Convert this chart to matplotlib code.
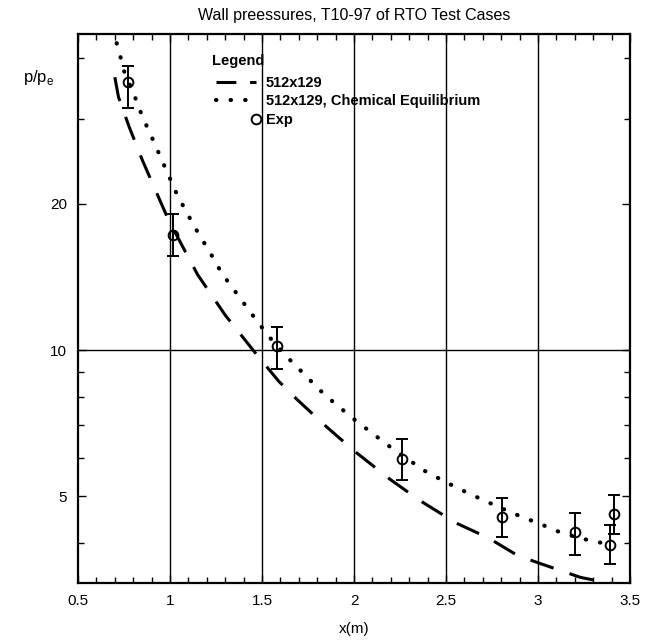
import numpy as np
import matplotlib.pyplot as plt
from matplotlib.lines import Line2D
from matplotlib.legend_handler import HandlerLine2D
from matplotlib.ticker import FixedLocator, NullFormatter, LogLocator

plt.rcParams["font.family"] = ["Liberation Sans", "DejaVu Sans"]

# ---- data ----
x_dash = [0.70, 0.72, 0.78, 0.85, 0.99, 1.07, 1.15, 1.30, 1.48, 1.59, 1.69,
          1.85, 2.00, 2.20, 2.36, 2.555, 2.73, 2.89, 3.04, 3.23, 3.40]
y_dash = [36.5, 33.2, 28.7, 24.6, 18.6, 16.3, 14.3, 11.8, 9.69, 8.63, 7.91,
          6.95, 6.20, 5.40, 4.89, 4.40, 4.10, 3.77, 3.60, 3.40, 3.30]

x_dot = [0.71, 0.728, 0.746, 0.814, 0.855, 0.882, 1.036, 1.094, 1.154, 1.217,
         1.281, 1.462, 1.543, 1.625, 1.716, 1.803, 1.848, 2.00, 2.20, 2.386,
         2.504, 2.62, 2.79, 2.90, 3.025, 3.134, 3.27, 3.38]
y_dot = [42.9, 40.6, 37.9, 32.9, 29.9, 28.5, 21.0, 19.1, 17.4, 15.9,
         14.4, 11.62, 10.6, 9.77, 9.02, 8.35, 8.04, 7.2, 6.3, 5.63,
         5.33, 5.07, 4.74, 4.55, 4.36, 4.19, 4.06, 3.98]

x_exp = [0.772, 1.017, 1.58, 2.26, 2.804, 3.20, 3.39, 3.415]
y_exp = [35.6, 17.3, 10.19, 5.95, 4.53, 4.21, 3.97, 4.59]
y_hi = [38.5, 19.1, 11.17, 6.55, 4.95, 4.61, 4.35, 5.03]
y_lo = [31.6, 15.6, 9.12, 5.40, 4.12, 3.78, 3.63, 4.18]

x_grid = [1.0, 1.5, 2.0, 2.5, 3.0]
y_grid = [10]
x_ticks = [0.5, 1, 1.5, 2, 2.5, 3, 3.5]
x_ticklabels = ["0.5", "1", "1.5", "2", "2.5", "3", "3.5"]
y_ticks = [5, 10, 20]


class RightMarker(HandlerLine2D):
    # legend marker only at the right end of the handle
    def create_artists(self, legend, orig_handle, xdescent, ydescent,
                       width, height, fontsize, trans):
        arts = super().create_artists(legend, orig_handle, xdescent, ydescent,
                                      width, height, fontsize, trans)
        for a in arts:
            a.set_markevery([len(a.get_xdata()) - 1])
        return arts


fig = plt.figure(figsize=(6.47, 6.42), dpi=100)
ax = fig.add_axes([0.1206, 0.0919, 0.8531, 0.8551])

ax.set_yscale("log")
ax.set_xlim(0.5, 3.5)
ax.set_ylim(3.31, 44.8)

for xg in x_grid:
    ax.axvline(xg, color="black", lw=1.0, zorder=1)
for yg in y_grid:
    ax.axhline(yg, color="black", lw=1.0, zorder=1)

dash_style = dict(color="black", lw=2.2, dashes=(8, 5.5))
dot_style = dict(color="black", lw=3.0, linestyle=(0, (0.1, 3.4)),
                 dash_capstyle="round")
ax.plot(x_dash, y_dash, zorder=3, **dash_style)
ax.plot(x_dot, y_dot, zorder=3, **dot_style)

yerr = [np.array(y_exp) - np.array(y_lo), np.array(y_hi) - np.array(y_exp)]
ax.errorbar(x_exp, y_exp, yerr=yerr, fmt="o", mfc="none", mec="black",
            ms=7, mew=1.4, ecolor="black", elinewidth=1.4, capsize=4,
            capthick=1.4, zorder=4)

ax.set_xticks(x_ticks)
ax.set_xticklabels(x_ticklabels)
ax.xaxis.set_minor_locator(FixedLocator(np.arange(0.5, 3.5001, 0.1)))
ax.yaxis.set_major_locator(FixedLocator(y_ticks))
ax.set_yticklabels([str(v) for v in y_ticks])
ax.yaxis.set_minor_locator(LogLocator(base=10, subs=(2, 3, 4, 6, 7, 8, 9)))
ax.yaxis.set_minor_formatter(NullFormatter())

ax.tick_params(which="both", direction="in", top=True, right=True,
               labelsize=11, width=1.0, pad=8)
ax.tick_params(which="major", length=6)
ax.tick_params(which="minor", length=4)
for s in ax.spines.values():
    s.set_linewidth(1.6)

ax.set_title("Wall preessures, T10-97 of RTO Test Cases", fontsize=11.5, pad=10)
ax.set_xlabel("x(m)", fontsize=11, labelpad=10)
fig.text(0.035, 0.88, "p/p$_\\mathregular{e}$", fontsize=12, ha="left", va="center")

h_dash = Line2D([], [], color="black", lw=2.2, dashes=(6.5, 4.5))
h_dot = Line2D([], [], **dot_style)
h_exp = Line2D([], [], ls="none", marker="o", mfc="none", mec="black", ms=7,
               mew=1.4)
labels = ["512x129", "512x129, Chemical Equilibrium", "Exp"]
leg = ax.legend([h_dash, h_dot, h_exp], labels, loc="upper left",
                bbox_to_anchor=(0.232, 0.975), frameon=False, title="Legend",
                handlelength=3.3, handletextpad=0.4, labelspacing=0.3,
                borderaxespad=0, numpoints=2,
                handler_map={h_exp: RightMarker(numpoints=2)},
                prop={"weight": "bold", "size": 10.5})
leg.get_title().set_fontweight("bold")
leg.get_title().set_fontsize(10.5)
leg._legend_box.align = "left"
leg._legend_box.sep = 6

fig.savefig("out.png", dpi=100)
